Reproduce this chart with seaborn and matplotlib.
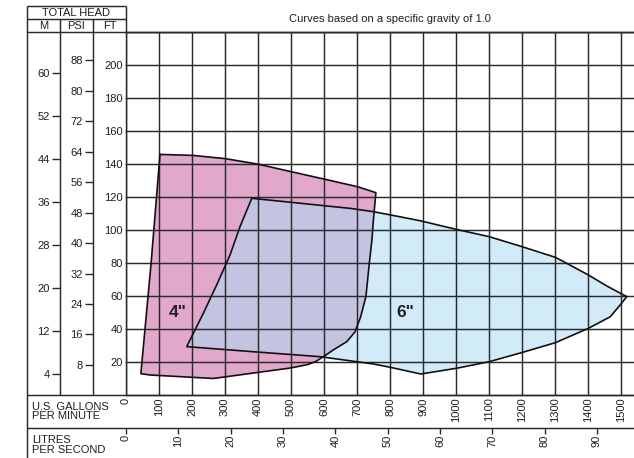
import matplotlib

matplotlib.use("Agg")

import matplotlib.pyplot as plt
import seaborn as sns

# axis ticks
gpm_ticks = list(range(0, 1600, 100))
lps_ticks = list(range(0, 100, 10))
ft_ticks = list(range(20, 220, 20))
psi_ticks = list(range(8, 96, 8))
m_ticks = list(range(4, 68, 8))

# 4" pump envelope (US gpm, head in feet)
pump4_gpm = [103, 202, 302, 402, 501, 601, 702, 757, 749, 745, 737, 727, 711, 694, 669, 628,
             598, 575, 550, 500, 265, 73, 45, 76, 103]
pump4_ft = [146, 145.4, 143.4, 140, 135.5, 131, 126.4, 122.8, 105, 94, 80, 60, 47.6, 38.5, 32.5, 27.5,
            23.4, 20.5, 18.6, 16.6, 10.2, 12.3, 13.1, 80, 146]

# 6" pump envelope
pump6_gpm = [381, 679, 749, 830, 891, 1000, 1101, 1201, 1301, 1335, 1401, 1457, 1517, 1497, 1467, 1401,
             1301, 1201, 1101, 1002, 893, 800, 749, 588, 386, 184, 234, 275, 315, 345, 381]
pump6_ft = [119.4, 113.3, 111.3, 108.2, 105.8, 100.6, 96.1, 90, 83.6, 80, 72.9, 66.2, 59.8, 54.7, 47.6, 40.6,
            31.9, 26, 20.4, 16.4, 12.9, 17, 19, 23.4, 26.4, 29.5, 49.6, 67, 85, 102, 119.4]

labels_pos = {'4"': (158, 50), '6"': (845, 50)}

GPM_PER_LPS = 15.85
FT_MAX = 220
PSI_MAX = 95.4
M_MAX = 67.6

PINK = "#E2A8CB"
BLUE = "#D1EBF8"
OVERLAP = "#C3C3E2"
LINE = "#2a2a2a"
TEXT = "#1e1e1e"
FS = 8

W, H = 634, 458
TOP, BOT, LPS_Y = 32.3, 395.3, 428

sns.set_style("white")
plt.rcParams["font.family"] = ["Liberation Sans", "DejaVu Sans"]

fig = plt.figure(figsize=(W / 100, H / 100), dpi=100)


def px_axes(x0, y0, x1, y1, **kw):
    return fig.add_axes([x0 / W, 1 - y1 / H, (x1 - x0) / W, (y1 - y0) / H], **kw)


ax = px_axes(126, TOP, 634, BOT)
ax.set_facecolor("white")
ax.set_xlim(0, 1539)
ax.set_ylim(0, FT_MAX)

pink = ax.fill(pump4_gpm, pump4_ft, color=PINK, lw=0, zorder=1)[0]
ax.fill(pump6_gpm, pump6_ft, color=BLUE, lw=0, zorder=1)
overlap = ax.fill(pump6_gpm, pump6_ft, color=OVERLAP, lw=0, zorder=1.1)[0]
overlap.set_clip_path(pink)

for xs, ys in ((pump4_gpm, pump4_ft), (pump6_gpm, pump6_ft)):
    sns.lineplot(x=xs, y=ys, sort=False, estimator=None, color="#111111", lw=1.2, ax=ax, zorder=3)

for txt, (gx, fy) in labels_pos.items():
    ax.text(gx, fy, txt, fontsize=12.5, fontweight="bold", color="#222222", ha="center", va="center", zorder=4)

ax.set_xticks(gpm_ticks, labels=[str(v) for v in gpm_ticks])
ax.set_yticks(ft_ticks + [FT_MAX])
ax.set_axisbelow(False)
ax.grid(True, color=LINE, lw=1.05)
ax.tick_params(axis="x", length=0, pad=1.5, labelsize=FS, labelrotation=90, labelcolor=TEXT)
ax.tick_params(axis="y", length=0, labelleft=False)
ax.set_xlabel("")
ax.set_ylabel("")
for side, sp in ax.spines.items():
    sp.set_visible(side != "right")
    sp.set_color(LINE)
    sp.set_linewidth(1.05)

sec = ax.secondary_xaxis(-(LPS_Y - BOT) / (BOT - TOP),
                         functions=(lambda g: g / GPM_PER_LPS, lambda l: l * GPM_PER_LPS))
sec.set_xticks(lps_ticks, labels=[str(v) for v in lps_ticks])
sec.tick_params(axis="x", direction="out", length=4, width=1, color=LINE, pad=1,
                labelsize=FS, labelrotation=90, labelcolor=TEXT)
for sp in sec.spines.values():
    sp.set_visible(False)


def head_column(x0, x1, top_value, ticks, tick_len):
    col = px_axes(x0, TOP, x1, BOT)
    col.set_facecolor("none")
    col.set_xticks([])
    col.set_ylim(0, top_value)
    col.yaxis.tick_right()
    col.set_yticks(ticks, labels=[str(v) for v in ticks], ha="right")
    col.tick_params(axis="y", direction="in", length=tick_len, width=1, color=LINE,
                    pad=-(tick_len + 1.5), labelsize=FS, labelcolor=TEXT)
    for sp in col.spines.values():
        sp.set_visible(False)
    return col


head_column(27, 60, M_MAX, m_ticks, 5.8)
head_column(60, 93, PSI_MAX, psi_ticks, 5.8)
head_column(93, 126, FT_MAX, ft_ticks, 0.6)

# frame and header boxes
frame = fig.add_axes([0, 0, 1, 1], zorder=10)
frame.set_xlim(0, W)
frame.set_ylim(H, 0)
frame.axis("off")
segments = [
    ((27, 126), (5.7, 5.7)),
    ((27, 126), (19, 19)),
    ((126, 126), (5.7, TOP)),
    ((27, 27), (5.7, H)),
    ((60, 60), (19, BOT)),
    ((93, 93), (19, BOT)),
    ((27, W), (TOP, TOP)),
    ((27, W), (BOT, BOT)),
    ((27, W), (LPS_Y, LPS_Y)),
]
for xs, ys in segments:
    frame.plot(xs, ys, color=LINE, lw=1.05, solid_capstyle="butt")

frame.text(76.5, 12.6, "TOTAL HEAD", fontsize=FS, ha="center", va="center", color=TEXT)
for cx, name in ((43.5, "M"), (76.5, "PSI"), (109.5, "FT")):
    frame.text(cx, 26, name, fontsize=FS, ha="center", va="center", color=TEXT)
frame.text(390, 18.5, "Curves based on a specific gravity of 1.0", fontsize=FS,
           ha="center", va="center", color=TEXT)
frame.text(32, 401.5, "U.S. GALLONS\nPER MINUTE", fontsize=8, ha="left", va="top",
           linespacing=0.95, color=TEXT)
frame.text(32, 435, "LITRES\nPER SECOND", fontsize=8, ha="left", va="top",
           linespacing=0.95, color=TEXT)

fig.savefig("out.png", dpi=100)
plt.close(fig)
